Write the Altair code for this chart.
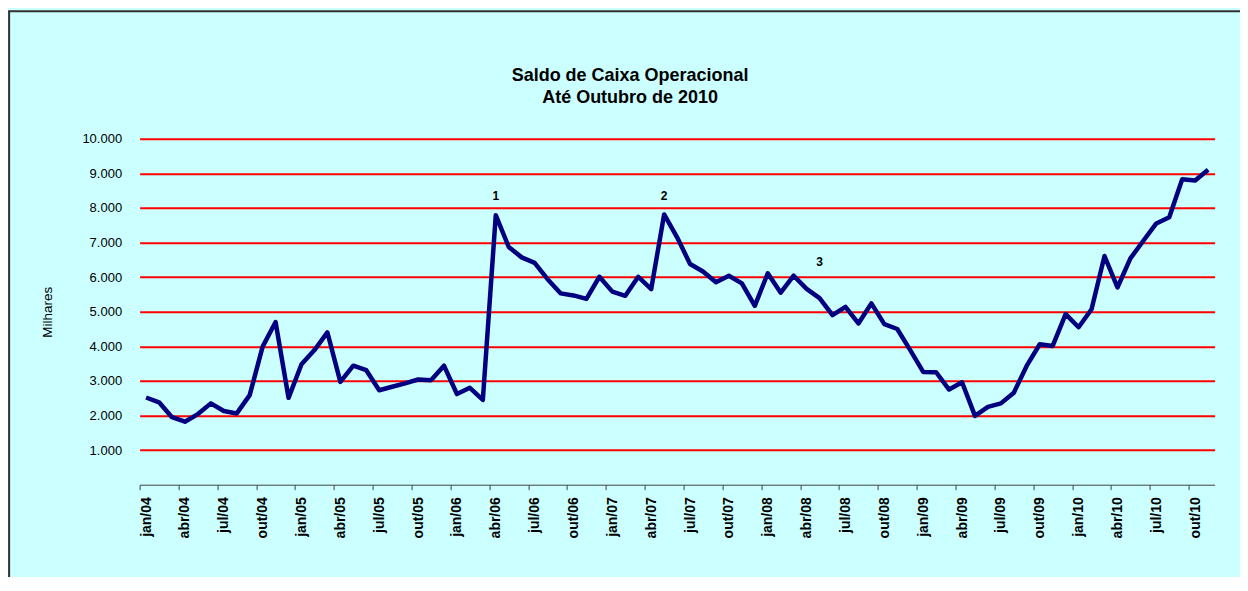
import altair as alt
import pandas as pd

# --- data -------------------------------------------------------------
month_names = ["jan", "fev", "mar", "abr", "mai", "jun",
               "jul", "ago", "set", "out", "nov", "dez"]
years = ["04", "05", "06", "07", "08", "09", "10"]

saldo = [2520, 2380, 1950, 1820, 2040, 2350, 2130, 2060, 2590, 3990, 4700, 2510,
         3480, 3890, 4400, 2970, 3440, 3310, 2730, 2830, 2930, 3040, 3020, 3440,
         2620, 2800, 2450, 7790, 6870, 6570, 6410, 5940, 5530, 5470, 5370, 6010,
         5580, 5460, 6010, 5650, 7810, 7150, 6380, 6160, 5850, 6040, 5820, 5170,
         6110, 5550, 6040, 5660, 5390, 4900, 5140, 4660, 5240, 4640, 4500, 3890,
         3260, 3250, 2750, 2960, 1990, 2250, 2350, 2660, 3440, 4060, 4010, 4930,
         4550, 5070, 6610, 5700, 6540, 7050, 7550, 7730, 8830, 8790, 9100]

meses = [f"{m}/{y}" for y in years for m in month_names][: len(saldo)]
tick_labels = meses[::3]
y_ticks = [1000, 2000, 3000, 4000, 5000, 6000, 7000, 8000, 9000, 10000]

ann_text = ["1", "2", "3"]
ann_month = [27, 40, 52]
ann_value = [8350, 8350, 6430]

# --- tables -----------------------------------------------------------
df = pd.DataFrame({"idx": list(range(len(saldo))), "mes": meses, "saldo": saldo})
ann = pd.DataFrame({"txt": ann_text, "idx": ann_month, "v": ann_value})

FONT = "Liberation Sans"
PLOT_W, PLOT_H = 1075, 346

label_arr = "[" + ",".join(f"'{t}'" for t in tick_labels) + "]"
x_tick_values = list(range(0, len(saldo), 3))

x_scale = alt.Scale(domain=[0, len(saldo)], nice=False, zero=False)
y_scale = alt.Scale(domain=[0, 10000], nice=False)

x_axis = alt.Axis(values=x_tick_values, tickCount=200,
                  labelExpr=label_arr + "[round(datum.value/3)]",
                  labelAngle=-90, labelOffset=6.5, labelFlush=False,
                  labelOverlap=False, labelPadding=7,
                  labelFont=FONT, labelFontSize=14, labelFontWeight="bold",
                  labelColor="black",
                  tickSize=5, tickColor="#404040", domainColor="#404040",
                  domainWidth=1, grid=False, title=None)
y_axis = alt.Axis(values=y_ticks, tickCount=100, grid=True,
                  gridColor="#FF0000", gridWidth=2, ticks=False,
                  domain=False, labelOverlap=False,
                  labelExpr="replace(format(datum.value, ','), ',', '.')",
                  labelFont=FONT, labelFontSize=13, labelColor="black",
                  labelPadding=18,
                  title="Milhares", titleFont=FONT, titleFontSize=13.5,
                  titleFontWeight="normal", titleColor="black",
                  titlePadding=27)

line = alt.Chart(df).transform_calculate(
    pos="datum.idx + 0.5"
).mark_line(color="#000080", strokeWidth=4.5, strokeJoin="round").encode(
    x=alt.X("pos:Q", scale=x_scale, axis=x_axis),
    y=alt.Y("saldo:Q", scale=y_scale, axis=y_axis),
)

labels = alt.Chart(ann).transform_calculate(
    pos="datum.idx + 0.5"
).mark_text(font=FONT, fontSize=12, fontWeight="bold", color="black").encode(
    x=alt.X("pos:Q", scale=x_scale, axis=x_axis),
    y=alt.Y("v:Q", scale=y_scale, axis=y_axis),
    text="txt:N",
)

frame_src = pd.DataFrame({"a": [0]})
border_left = alt.Chart(frame_src).mark_rule(color="#303030", strokeWidth=2).encode(
    x=alt.value(-130.5), y=alt.value(-127.5), y2=alt.value(PLOT_H + 100),
)
border_top = alt.Chart(frame_src).mark_rule(color="#303030", strokeWidth=2).encode(
    x=alt.value(-131.5), x2=alt.value(PLOT_W + 26), y=alt.value(-127.5),
)

chart = alt.layer(border_left, border_top, line, labels).properties(
    width=PLOT_W, height=PLOT_H,
    title=alt.TitleParams(
        text=["Saldo de Caixa Operacional", "Até Outubro de 2010"],
        font=FONT, fontSize=18, fontWeight="bold", color="black",
        anchor="middle", frame="group", dx=-47, dy=129, offset=32,
        lineHeight=22,
    ),
    padding={"left": 131.6, "top": 130.7, "right": 25.4, "bottom": 92},
    autosize=alt.AutoSizeParams(type="none"),
    background="#CCFFFF",
).configure_view(stroke=None)

chart.save("out.html", embed_options={"renderer": "svg", "actions": False})
